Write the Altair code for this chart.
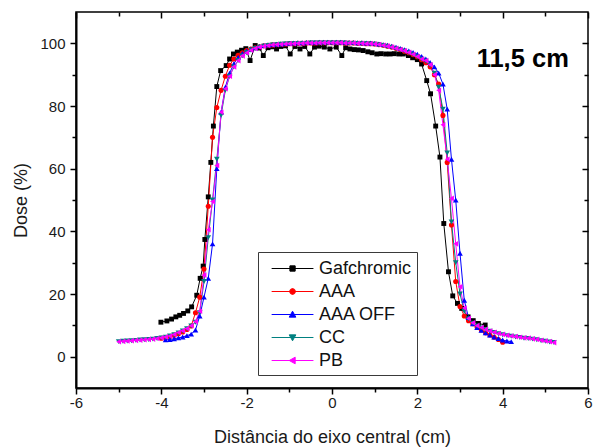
import altair as alt
import pandas as pd

SERIES = ["Gafchromic", "AAA", "AAA OFF", "CC", "PB"]
COLORS = ["#000000", "#ff0000", "#0000ff", "#008080", "#ff00ff"]
SHAPES = ["square", "circle", "triangle-up", "triangle-down", "triangle-left"]
SIZES = [24, 26, 32, 32, 32]
# legend glyphs: a short line with the series marker in its middle (unit = 11 px,
# drawn shifted right so that the line sits where the reference shows it)
LEGEND_PATHS = [
    "M-0.26,0H3.54M1.40,-0.24H1.88V0.24H1.40Z",
    "M-0.26,0H3.54M1.37,0L1.45,-0.19L1.64,-0.27L1.83,-0.19L1.91,0L1.83,0.19L1.64,0.27L1.45,0.19Z",
    "M-0.26,0H3.54M1.64,-0.3L1.94,0.24L1.34,0.24Z",
    "M-0.26,0H3.54M1.64,0.3L1.94,-0.24L1.34,-0.24Z",
    "M-0.26,0H3.54M1.34,0L1.88,-0.3L1.88,0.3Z",
]

GAF_X = [-4.01, -3.87, -3.76, -3.66, -3.57, -3.48, -3.38, -3.29, -3.17, -3.09,
         -3.02, -2.98, -2.90, -2.84, -2.78, -2.70, -2.61, -2.48, -2.40, -2.31,
         -2.22, -2.12, -2.02, -1.92, -1.80, -1.70, -1.61, -1.50, -1.40, -1.30,
         -1.20, -1.09, -0.98, -0.87, -0.75, -0.64, -0.52, -0.41, -0.30, -0.18,
         -0.05, 0.10, 0.23, 0.32, 0.42, 0.52, 0.62, 0.73, 0.84, 0.94,
         1.05, 1.15, 1.26, 1.36, 1.46, 1.57, 1.67, 1.79, 1.89, 2.00,
         2.10, 2.22, 2.31, 2.43, 2.53, 2.62, 2.73, 2.83, 2.94, 3.04,
         3.19, 3.31, 3.43, 3.59]
GAF_Y = [11.0, 11.4, 12.0, 12.7, 13.2, 13.8, 14.6, 15.9, 19.6, 25.0,
         28.9, 37.4, 51.0, 62.0, 73.6, 86.2, 91.3, 92.9, 95.0, 96.6,
         97.2, 97.8, 98.3, 94.5, 99.3, 98.5, 96.1, 98.6, 98.9, 98.2,
         99.0, 99.2, 96.6, 99.0, 98.2, 99.0, 96.6, 98.8, 99.1, 98.8,
         98.2, 98.8, 96.1, 98.6, 98.2, 98.0, 97.9, 97.7, 97.3, 97.0,
         96.6, 96.7, 96.6, 96.6, 96.7, 96.6, 96.6, 96.1, 95.4, 94.8,
         93.4, 88.1, 83.9, 73.6, 63.7, 42.5, 27.1, 19.4, 17.0, 15.4,
         12.7, 11.5, 10.6, 10.1]

PB_X = [-5.0, -4.9, -4.8, -4.7, -4.6, -4.5, -4.4, -4.3, -4.2, -4.1,
        -4.0, -3.9, -3.8, -3.7, -3.6, -3.5, -3.4, -3.3, -3.2, -3.1,
        -3.0, -2.9, -2.8, -2.7, -2.6, -2.5, -2.4, -2.3, -2.2, -2.1,
        -2.0, -1.9, -1.8, -1.7, -1.6, -1.5, -1.4, -1.3, -1.2, -1.1,
        -1.0, -0.9, -0.8, -0.7, -0.6, -0.5, -0.4, -0.3, -0.2, -0.1,
        0.0, 0.1, 0.2, 0.3, 0.4, 0.5, 0.6, 0.7, 0.8, 0.9,
        1.0, 1.1, 1.2, 1.3, 1.4, 1.5, 1.6, 1.7, 1.8, 1.9,
        2.0, 2.1, 2.2, 2.3, 2.4, 2.5, 2.6, 2.7, 2.8, 2.9,
        3.0, 3.1, 3.2, 3.3, 3.4, 3.5, 3.6, 3.7, 3.8, 3.9,
        4.0, 4.1, 4.2, 4.3, 4.4, 4.5, 4.6, 4.7, 4.8, 4.9,
        5.0, 5.1, 5.2]
PB_Y = [4.8, 4.9, 5.0, 5.1, 5.2, 5.3, 5.4, 5.5, 5.6, 5.8,
        6.0, 6.3, 6.6, 7.1, 7.7, 8.3, 9.0, 9.9, 11.2, 14.5,
        26.0, 40.5, 49.5, 61.0, 78.0, 85.5, 89.5, 92.5, 94.5, 96.0,
        97.0, 97.8, 98.4, 98.8, 99.1, 99.3, 99.5, 99.6, 99.7, 99.8,
        99.9, 99.9, 100.0, 100.0, 100.1, 100.1, 100.1, 100.2, 100.2, 100.2,
        100.2, 100.2, 100.2, 100.1, 100.1, 100.1, 100.0, 100.0, 99.9, 99.9,
        99.8, 99.6, 99.4, 99.1, 98.8, 98.4, 98.0, 97.6, 97.1, 96.5,
        95.8, 95.0, 94.5, 93.2, 90.0, 85.0, 74.0, 63.0, 50.5, 36.0,
        22.3, 15.5, 12.2, 10.8, 9.9, 9.3, 8.7, 8.2, 7.8, 7.4,
        7.1, 6.8, 6.6, 6.4, 6.2, 6.0, 5.9, 5.7, 5.5, 5.2,
        5.0, 4.8, 4.5]
CC_Y = [4.8, 4.9, 5.0, 5.1, 5.2, 5.3, 5.4, 5.5, 5.6, 5.8,
        6.0, 6.2, 6.6, 7.0, 7.6, 8.2, 8.9, 9.8, 11.0, 14.0,
        24.0, 38.0, 50.0, 63.0, 77.0, 85.0, 89.5, 92.5, 94.5, 96.0,
        97.0, 97.8, 98.4, 98.8, 99.1, 99.3, 99.5, 99.6, 99.7, 99.8,
        99.9, 99.9, 100.0, 100.0, 100.0, 100.1, 100.1, 100.1, 100.1, 100.1,
        100.1, 100.1, 100.1, 100.1, 100.0, 100.0, 100.0, 99.9, 99.9, 99.8,
        99.7, 99.5, 99.3, 99.0, 98.7, 98.3, 97.9, 97.5, 97.0, 96.4,
        95.7, 94.9, 94.3, 93.0, 90.5, 86.0, 79.0, 65.0, 43.0, 30.0,
        20.0, 14.5, 12.0, 10.7, 9.8, 9.2, 8.6, 8.1, 7.7, 7.3,
        7.0, 6.7, 6.5, 6.3, 6.1, 5.9, 5.8, 5.6, 5.4, 5.1,
        4.9, 4.7, 4.5]

AAA_X = [-4.0, -3.9, -3.8, -3.7, -3.6, -3.5, -3.4, -3.3, -3.2, -3.1,
         -3.0, -2.9, -2.8, -2.7, -2.6, -2.5, -2.4, -2.3, -2.2, -2.1,
         -2.0, -1.9, -1.8, -1.7, -1.6, -1.5, -1.4, -1.3, -1.2, -1.1,
         -1.0, -0.9, -0.8, -0.7, -0.6, -0.5, -0.4, -0.3, -0.2, -0.1,
         0.0, 0.1, 0.2, 0.3, 0.4, 0.5, 0.6, 0.7, 0.8, 0.9,
         1.0, 1.1, 1.2, 1.3, 1.4, 1.5, 1.6, 1.7, 1.8, 1.9,
         2.0, 2.1, 2.2, 2.3, 2.4, 2.5, 2.6, 2.7, 2.8, 2.9,
         3.0, 3.1, 3.2, 3.3, 3.4, 3.5, 3.6, 3.7, 3.8, 3.9,
         4.0]
AAA_Y = [5.9, 6.1, 6.4, 6.8, 7.3, 7.9, 8.7, 9.8, 14.0, 19.0,
         28.0, 48.0, 70.0, 79.5, 85.0, 89.5, 93.0, 95.0, 96.2, 97.0,
         97.7, 98.2, 98.6, 98.9, 99.2, 99.4, 99.5, 99.6, 99.7, 99.8,
         99.9, 99.9, 100.0, 100.0, 100.1, 100.1, 100.1, 100.2, 100.2, 100.2,
         100.2, 100.2, 100.2, 100.1, 100.1, 100.1, 100.0, 100.0, 99.9, 99.9,
         99.8, 99.6, 99.4, 99.1, 98.8, 98.4, 98.0, 97.5, 97.0, 96.4,
         95.7, 94.8, 93.8, 92.5, 90.0, 87.0, 77.0, 62.0, 42.0, 24.0,
         16.0, 13.0, 11.5, 10.5, 9.5, 8.5, 7.6, 6.9, 6.2, 5.5,
         4.6]

AOFF_X = [-3.9, -3.8, -3.7, -3.6, -3.5, -3.4, -3.3, -3.2, -3.1,
          -3.0, -2.9, -2.8, -2.7, -2.6, -2.5, -2.4, -2.3, -2.2, -2.1,
          -2.0, -1.9, -1.8, -1.7, -1.6, -1.5, -1.4, -1.3, -1.2, -1.1,
          -1.0, -0.9, -0.8, -0.7, -0.6, -0.5, -0.4, -0.3, -0.2, -0.1,
          0.0, 0.1, 0.2, 0.3, 0.4, 0.5, 0.6, 0.7, 0.8, 0.9,
          1.0, 1.1, 1.2, 1.3, 1.4, 1.5, 1.6, 1.7, 1.8, 1.9,
          2.0, 2.1, 2.2, 2.3, 2.4, 2.5, 2.6, 2.7, 2.8, 2.9,
          3.0, 3.1, 3.2, 3.3, 3.4, 3.5, 3.6, 3.7, 3.8, 3.9,
          4.0, 4.1, 4.2]
AOFF_Y = [5.4, 5.5, 5.7, 6.0, 6.3, 6.7, 7.2, 8.5, 13.0,
          19.0, 25.0, 36.0, 60.0, 78.0, 86.0, 90.5, 93.5, 95.5, 96.8,
          97.6, 98.2, 98.6, 99.0, 99.3, 99.5, 99.6, 99.7, 99.8, 99.9,
          100.0, 100.1, 100.2, 100.2, 100.3, 100.3, 100.3, 100.4, 100.4, 100.4,
          100.4, 100.4, 100.4, 100.3, 100.3, 100.3, 100.2, 100.2, 100.1, 100.1,
          100.0, 99.8, 99.6, 99.4, 99.1, 98.8, 98.4, 98.0, 97.6, 97.1,
          96.5, 95.8, 95.0, 93.9, 92.5, 90.5, 87.0, 79.0, 63.0, 50.0,
          33.0, 18.0, 12.5, 10.5, 9.3, 8.4, 7.6, 6.9, 6.3, 5.8,
          5.3, 5.0, 4.8]

ANNOT_TEXT = ["11,5 cm"]
ANNOT_X = [3.39]
ANNOT_Y = [92.4]

X_MAJOR = [-6, -4, -2, 0, 2, 4, 6]
X_MINOR = [-5, -3, -1, 1, 3, 5]
Y_MAJOR = [0, 20, 40, 60, 80, 100]
Y_MINOR = [10, 30, 50, 70, 90]

series_data = [
    ("Gafchromic", GAF_X, GAF_Y),
    ("AAA", AAA_X, AAA_Y),
    ("AAA OFF", AOFF_X, AOFF_Y),
    ("CC", PB_X, CC_Y),
    ("PB", PB_X, PB_Y),
]
rows = []
for name, xs_, ys_ in series_data:
    for xv, yv in zip(xs_, ys_):
        rows.append({"series": name, "x": xv, "y": yv})
df = pd.DataFrame(rows)
annot = pd.DataFrame({"label": ANNOT_TEXT, "x": ANNOT_X, "y": ANNOT_Y})

FONT = "Liberation Sans"
xs = alt.Scale(domain=[-6, 6], nice=False, zero=False)
ys = alt.Scale(domain=[-10, 110], nice=False, zero=False)

ax_bottom = alt.Axis(orient="bottom", values=X_MAJOR, grid=False, domain=True,
                     domainWidth=2, domainColor="black", tickSize=6, tickWidth=1.5,
                     tickColor="black", labelFont=FONT, labelFontSize=15,
                     labelColor="#1a1a1a", labelPadding=1, labelExpr="'' + datum.value",
                     labelFlush=False, title="Distância do eixo central (cm)",
                     titleFont=FONT, titleFontSize=18, titleFontWeight="normal",
                     titleColor="#1a1a1a", titleX=256, titleY=54, titleBaseline="alphabetic")
ax_left = alt.Axis(orient="left", values=Y_MAJOR, grid=False, domain=True,
                   domainWidth=2, domainColor="black", tickSize=6, tickWidth=1.5,
                   tickColor="black", labelFont=FONT, labelFontSize=15,
                   labelColor="#1a1a1a", labelPadding=5, labelExpr="'' + datum.value",
                   labelFlush=False, title="Dose (%)", titleFont=FONT, titleFontSize=18,
                   titleFontWeight="normal", titleColor="#1a1a1a", titleAngle=270,
                   titleX=-55, titleY=188, titleBaseline="middle", titleAlign="center")
ax_bottom_minor = alt.Axis(orient="bottom", values=X_MINOR, grid=False, domain=False,
                           labels=False, tickSize=4, tickWidth=1.5, tickColor="black", title=None)
ax_left_minor = alt.Axis(orient="left", values=Y_MINOR, grid=False, domain=False,
                         labels=False, tickSize=4, tickWidth=1.5, tickColor="black", title=None)
ax_top = alt.Axis(orient="top", values=X_MAJOR, grid=False, domain=False, labels=False,
                  tickSize=6, tickWidth=1.5, tickColor="black", offset=-6, title=None)
ax_right = alt.Axis(orient="right", values=Y_MAJOR, grid=False, domain=False, labels=False,
                    tickSize=6, tickWidth=1.5, tickColor="black", offset=-6, title=None)
ax_top_minor = alt.Axis(orient="top", values=X_MINOR, grid=False, domain=False, labels=False,
                        tickSize=4, tickWidth=1.5, tickColor="black", offset=-4, title=None)
ax_right_minor = alt.Axis(orient="right", values=Y_MINOR, grid=False, domain=False, labels=False,
                          tickSize=4, tickWidth=1.5, tickColor="black", offset=-4, title=None)

base = alt.Chart(df)

line_layers = []
point_layers = []
for i, name in enumerate(SERIES):
    sub = base.transform_filter(alt.datum.series == name)
    if i == 0:
        lx, ly = ax_bottom, ax_left
        px, py = ax_bottom_minor, ax_left_minor
    else:
        lx = ly = px = py = None
    line_layers.append(
        sub.mark_line(strokeWidth=1, color=COLORS[i], clip=True).encode(
            x=alt.X("x:Q", scale=xs, axis=lx),
            y=alt.Y("y:Q", scale=ys, axis=ly),
        )
    )
    point_layers.append(
        sub.mark_point(shape=SHAPES[i], filled=True, size=SIZES[i], color=COLORS[i],
                       opacity=1, clip=True).encode(
            x=alt.X("x:Q", scale=xs, axis=px),
            y=alt.Y("y:Q", scale=ys, axis=py),
        )
    )

LEG = dict(title=None, orient="none", legendX=182, legendY=240, direction="vertical",
           symbolSize=484, symbolStrokeWidth=1, labelOffset=33,
           rowPadding=2, padding=5, strokeColor="#3a3a3a", fillColor="white",
           labelFont=FONT, labelFontSize=18, labelColor="#111111")

# legend-only layer (size-0 points draw nothing; the legend reads the explicit scales)
legend_layer = base.mark_point(filled=True, size=0, opacity=1).encode(
    x=alt.X("x:Q", scale=xs, axis=ax_top),
    y=alt.Y("y:Q", scale=ys, axis=ax_right),
    shape=alt.Shape("series:N", scale=alt.Scale(domain=SERIES, range=LEGEND_PATHS),
                    legend=alt.Legend(**LEG)),
    fill=alt.Fill("series:N", scale=alt.Scale(domain=SERIES, range=COLORS),
                  legend=alt.Legend(**LEG)),
    stroke=alt.Stroke("series:N", scale=alt.Scale(domain=SERIES, range=COLORS),
                      legend=alt.Legend(**LEG)),
)

text_layer = alt.Chart(annot).mark_text(
    align="left", baseline="alphabetic", font=FONT, fontSize=25.5, fontWeight="bold", color="black"
).encode(
    x=alt.X("x:Q", scale=xs, axis=ax_top_minor),
    y=alt.Y("y:Q", scale=ys, axis=ax_right_minor),
    text="label:N",
)

chart = alt.layer(*line_layers, *point_layers, legend_layer, text_layer).resolve_axis(
    x="independent", y="independent"
).properties(
    width=512, height=376,
    padding={"left": 76, "top": 12, "right": 6, "bottom": 60},
    autosize=alt.AutoSizeParams(type="none"),
    background="white",
).configure_view(stroke="black", strokeWidth=1.5)

chart.save("out.html", embed_options={"renderer": "svg", "actions": False})
